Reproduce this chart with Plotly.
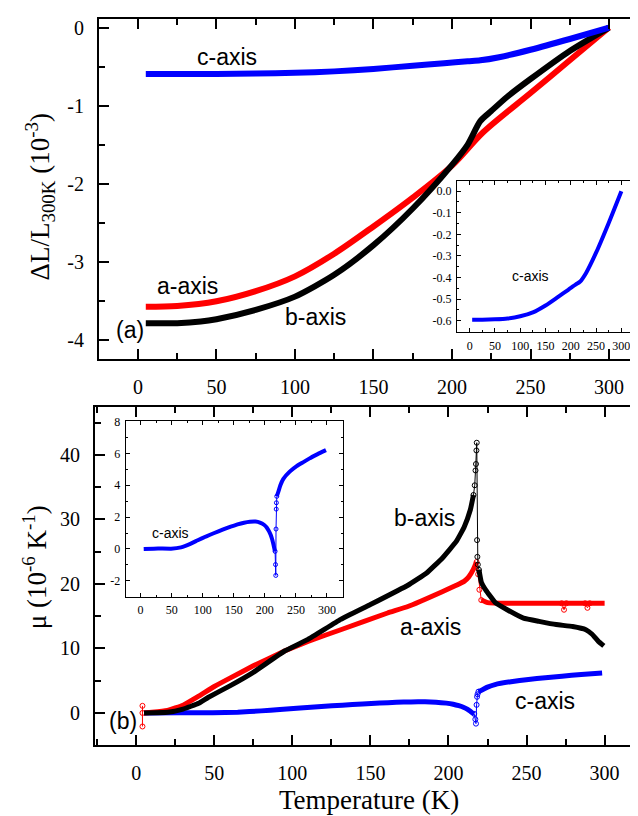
import plotly.graph_objects as go

# ---------------- data: panel (a) thermal expansion dL/L (1e-3) ----------------
top_T_a = [5, 25, 50, 75, 100, 125, 150, 175, 200, 220, 250, 275, 300]
top_a = [-3.58, -3.57, -3.51, -3.38, -3.19, -2.90, -2.55, -2.18, -1.77, -1.34, -0.84, -0.42, 0.0]

top_T_b = [5, 25, 40, 50, 75, 100, 125, 150, 175, 200, 210, 218, 225, 235, 250, 275, 300]
top_b = [-3.79, -3.79, -3.77, -3.74, -3.62, -3.45, -3.17, -2.79, -2.32, -1.76, -1.50, -1.20, -1.07, -0.89, -0.66, -0.30, 0.0]

top_T_c = [5, 25, 50, 75, 100, 125, 150, 175, 195, 210, 218, 230, 250, 275, 300]
top_c = [-0.596, -0.596, -0.594, -0.590, -0.580, -0.562, -0.530, -0.490, -0.457, -0.432, -0.420, -0.380, -0.285, -0.147, 0.0]

# ---------------- data: panel (b) expansion coefficient mu (1e-6 /K) ----------------
bot_T_a = [5, 10, 20, 30, 40, 50, 60, 75, 95, 110, 131, 161, 174, 196, 205, 210, 213, 216, 218]
bot_a = [0, 0.1, 0.4, 1.2, 2.6, 4.1, 5.4, 7.3, 9.6, 11.1, 12.9, 15.5, 16.5, 18.8, 19.8, 20.4, 21.1, 22.3, 23.4]
spk_T_a = [218, 219, 219.8, 221]
spk_a = [23.4, 21.5, 19.1, 17.5]
hi_T_a = [221, 225, 240, 260, 280, 300]
hi_a = [17.5, 17.1, 17.0, 17.0, 17.0, 17.0]
out_T_a = [272.5, 274, 275.5, 287.5, 289, 290.5]
out_a = [17.0, 16.0, 17.0, 17.0, 16.3, 17.0]
low_T_a = [4, 4, 4]
low_a = [1.1, 0.0, -2.1]

bot_T_b = [5, 20, 30, 40, 46, 60, 75, 95, 110, 131, 150, 174, 186, 196, 205, 210, 214, 216]
bot_b = [0, 0.1, 0.6, 1.5, 2.4, 4.2, 6.3, 9.6, 11.4, 14.5, 16.8, 19.8, 21.7, 24.0, 26.6, 28.8, 31.5, 33.8]
spk_T_b = [216, 216.8, 217.3, 217.6, 217.9, 218.1, 218.3, 218.5, 218.8, 219.5]
spk_b = [33.8, 35.3, 37.6, 38.6, 40.7, 41.9, 26.8, 24.2, 23.0, 22.2]
hi_T_b = [219.5, 221, 223.8, 230, 237.6, 248, 258, 269, 279.5, 288, 292, 296, 299.5]
hi_b = [22.2, 20.3, 19.1, 17.1, 16.0, 14.7, 14.2, 13.7, 13.4, 12.9, 12.2, 11.1, 10.4]

bot_T_c = [5, 28, 49, 65, 80, 92, 105, 118.6, 132, 145, 156, 166.6, 176, 185, 192, 198.6, 203, 206.6, 209.5, 212, 214, 215.7, 216.5]
bot_c = [0, 0.03, 0.02, 0.1, 0.32, 0.55, 0.78, 1.0, 1.21, 1.4, 1.54, 1.65, 1.71, 1.72, 1.66, 1.52, 1.35, 1.12, 0.88, 0.58, 0.25, -0.05, -0.15]
spk_T_c = [216.5, 217.2, 217.6, 218.0, 218.3, 218.6, 219.2]
spk_c = [-0.15, -0.98, -1.66, 1.25, 2.5, 2.9, 3.3]
hi_T_c = [219.2, 221.8, 225, 229.8, 240, 251.2, 262, 272.7, 285, 298.4]
hi_c = [3.3, 3.6, 4.0, 4.4, 4.85, 5.2, 5.45, 5.7, 5.95, 6.2]

# ---------------- tick labels ----------------
T_ticks = [0, 50, 100, 150, 200, 250, 300]
T_text = ["0", "50", "100", "150", "200", "250", "300"]
top_y_ticks = [0, -1, -2, -3, -4]
top_y_text = ["0", "-1", "-2", "-3", "-4"]
bot_y_ticks = [0, 10, 20, 30, 40]
bot_y_text = ["0", "10", "20", "30", "40"]
ins1_y_ticks = [0.0, -0.1, -0.2, -0.3, -0.4, -0.5, -0.6]
ins1_y_text = ["0.0", "-0.1", "-0.2", "-0.3", "-0.4", "-0.5", "-0.6"]
ins2_y_ticks = [-2, 0, 2, 4, 6, 8]
ins2_y_text = ["-2", "0", "2", "4", "6", "8"]

RED = "#ff0000"
BLK = "#000000"
BLU = "#0000ff"
SERIF = "Liberation Serif"
SANS = "Liberation Sans"

W, H = 638, 816

fig = go.Figure()

def line(x, y, color, width, xa, ya, smooth=0.3):
    fig.add_trace(go.Scatter(x=x, y=y, mode="lines", xaxis=xa, yaxis=ya,
                             line=dict(color=color, width=width, shape="spline", smoothing=smooth),
                             showlegend=False, hoverinfo="skip"))

def spikes(x, y, color, xa, ya, size=5):
    fig.add_trace(go.Scatter(x=x, y=y, mode="lines+markers", xaxis=xa, yaxis=ya,
                             line=dict(color=color, width=1),
                             marker=dict(symbol="circle-open", size=size, color=color, line=dict(width=1)),
                             showlegend=False, hoverinfo="skip"))

# panel (a)
line(top_T_a, top_a, RED, 6, "x", "y", 0.9)
line(top_T_b, top_b, BLK, 6, "x", "y", 0.7)
line(top_T_c, top_c, BLU, 6, "x", "y", 0.7)
# inset (a)
line(top_T_c, top_c, BLU, 4, "x3", "y3", 0.7)

# panel (b)
line(bot_T_c, bot_c, BLU, 5, "x2", "y2")
spikes(spk_T_c, spk_c, BLU, "x2", "y2")
line(hi_T_c, hi_c, BLU, 5, "x2", "y2")
line(bot_T_a, bot_a, RED, 5, "x2", "y2")
spikes(spk_T_a, spk_a, RED, "x2", "y2")
line(hi_T_a, hi_a, RED, 5, "x2", "y2")
spikes(out_T_a, out_a, RED, "x2", "y2")
spikes(low_T_a, low_a, RED, "x2", "y2")
line(bot_T_b, bot_b, BLK, 5, "x2", "y2")
spikes(spk_T_b, spk_b, BLK, "x2", "y2")
line(hi_T_b, hi_b, BLK, 5, "x2", "y2")
# inset (b)
line(bot_T_c, bot_c, BLU, 4, "x4", "y4")
spikes(spk_T_c, spk_c, BLU, "x4", "y4", size=4)
line(hi_T_c, hi_c, BLU, 4, "x4", "y4")

def px_x(a, b):
    return [a / W, b / W]

def px_y(top, bottom):
    return [1 - bottom / H, 1 - top / H]

MAIN_FONT = dict(family=SERIF, size=20, color="black")
INSET_FONT = dict(family=SERIF, size=12, color="black")

main_ax = dict(showline=True, linewidth=2, linecolor="black", mirror="allticks",
               ticks="inside", ticklen=10, tickwidth=2, tickcolor="black",
               showgrid=False, zeroline=False, tickmode="array",
               tickfont=MAIN_FONT, ticklabelstandoff=9)
inset_ax = dict(showline=True, linewidth=1, linecolor="black", mirror="allticks",
                ticks="inside", ticklen=4, tickwidth=1, tickcolor="black",
                showgrid=False, zeroline=False, tickmode="array",
                tickfont=INSET_FONT, ticklabelstandoff=2)

fig.update_layout(
    width=W, height=H,
    margin=dict(l=0, r=0, t=0, b=0),
    paper_bgcolor="white", plot_bgcolor="white",
    showlegend=False,
    font=dict(family=SERIF, color="black", size=20),
    xaxis=dict(main_ax, domain=px_x(91, 634), range=[-24.8, 321], anchor="y",
               tickvals=T_ticks, ticktext=T_text,
               minor=dict(ticks="inside", ticklen=6, tickwidth=2, tickcolor="black", dtick=25, tick0=0, showgrid=False)),
    yaxis=dict(main_ax, domain=px_y(4, 347), range=[-4.25, 0.11], anchor="x",
               tickvals=top_y_ticks, ticktext=top_y_text,
               minor=dict(ticks="inside", ticklen=6, tickwidth=2, tickcolor="black", dtick=0.5, tick0=0, showgrid=False)),
    xaxis2=dict(main_ax, domain=px_x(87, 633), range=[-26.4, 323.3], anchor="y2",
                tickvals=T_ticks, ticktext=T_text,
                minor=dict(ticks="inside", ticklen=6, tickwidth=2, tickcolor="black", dtick=25, tick0=0, showgrid=False)),
    yaxis2=dict(main_ax, domain=px_y(395, 736.5), range=[-5, 47.5], anchor="x2",
                tickvals=bot_y_ticks, ticktext=bot_y_text,
                minor=dict(ticks="inside", ticklen=6, tickwidth=2, tickcolor="black", dtick=5, tick0=0, showgrid=False)),
    xaxis3=dict(inset_ax, domain=px_x(449, 626), range=[-25, 325], anchor="y3",
                tickvals=T_ticks, ticktext=T_text,
                minor=dict(ticks="inside", ticklen=2, tickwidth=1, tickcolor="black", dtick=25, tick0=0, showgrid=False)),
    yaxis3=dict(inset_ax, domain=px_y(167.7, 320), range=[-0.654, 0.046], anchor="x3",
                tickvals=ins1_y_ticks, ticktext=ins1_y_text,
                minor=dict(ticks="inside", ticklen=2, tickwidth=1, tickcolor="black", dtick=0.05, tick0=0, showgrid=False)),
    xaxis4=dict(inset_ax, domain=px_x(117.7, 334.5), range=[-24, 325], anchor="y4",
                tickvals=T_ticks, ticktext=T_text,
                minor=dict(ticks="inside", ticklen=2, tickwidth=1, tickcolor="black", dtick=25, tick0=0, showgrid=False)),
    yaxis4=dict(inset_ax, domain=px_y(410, 586.8), range=[-3, 8], anchor="x4",
                tickvals=ins2_y_ticks, ticktext=ins2_y_text,
                minor=dict(ticks="inside", ticklen=2, tickwidth=1, tickcolor="black", dtick=1, tick0=0, showgrid=False)),
)

# dotted zero line in inset (b)
fig.add_shape(type="line", xref="x4 domain", yref="y4", x0=0, x1=1, y0=0, y1=0,
              line=dict(color="black", width=1, dash="dot"), layer="below")

def ann(text, xp, yp, size, family=SANS, angle=0):
    fig.add_annotation(text=text, x=xp / W, y=1 - yp / H, xref="paper", yref="paper",
                       showarrow=False, textangle=angle, xanchor="center", yanchor="middle",
                       font=dict(family=family, size=size, color="black"))

# curve labels
ann("c-axis", 219, 42, 23)
ann("a-axis", 179, 273, 23)
ann("b-axis", 307, 305, 23)
ann("(a)", 122, 318, 23)
ann("c-axis", 522, 263, 14)
ann("b-axis", 416, 507, 23)
ann("a-axis", 422, 617, 23)
ann("c-axis", 537, 692, 23)
ann("(b)", 115, 712, 23)
ann("c-axis", 162, 522, 14)

# axis titles
ann("ΔL/L<sub>300K</sub> (10<sup>-3</sup>)", 32, 184, 27, family=SERIF, angle=-90)
ann("μ (10<sup>-6</sup> K<sup>-1</sup>)", 27, 557, 27, family=SERIF, angle=-90)
ann("Temperature (K)", 361, 792, 27, family=SERIF)

fig.write_html("out.html")
